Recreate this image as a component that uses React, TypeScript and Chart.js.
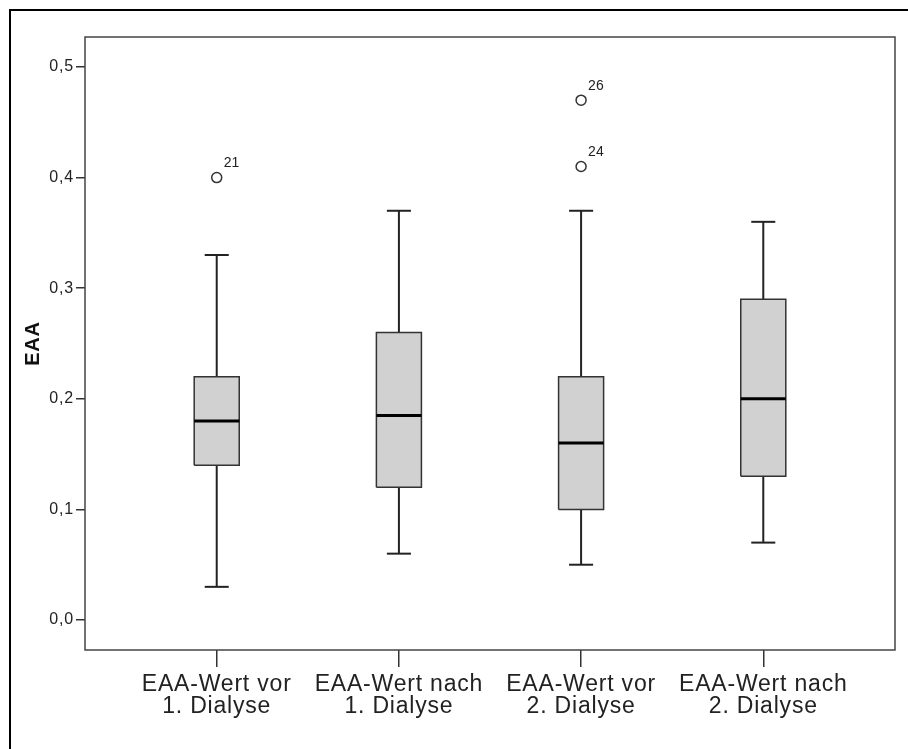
import React, { useEffect, useRef } from "react";
import { Chart, registerables } from "chart.js";

Chart.register(...registerables);

const categories: string[][] = [
  ["EAA-Wert vor", "1. Dialyse"],
  ["EAA-Wert nach", "1. Dialyse"],
  ["EAA-Wert vor", "2. Dialyse"],
  ["EAA-Wert nach", "2. Dialyse"],
];
const minVals = [0.03, 0.06, 0.05, 0.07];
const q1Vals = [0.14, 0.12, 0.1, 0.13];
const medianVals = [0.18, 0.185, 0.16, 0.2];
const q3Vals = [0.22, 0.26, 0.22, 0.29];
const maxVals = [0.33, 0.37, 0.37, 0.36];
const outlierCats = [0, 2, 2];
const outlierVals = [0.4, 0.47, 0.41];
const outlierLabels = ["21", "26", "24"];
const yTicks = [0, 0.1, 0.2, 0.3, 0.4, 0.5];

const FONT = "'Liberation Sans', Arial, sans-serif";
const BOX_HALF = 0.1236;
const CAP_HALF = 0.066;

export default function App() {
  const ref = useRef<HTMLCanvasElement | null>(null);

  useEffect(() => {
    if (!ref.current) return;
    const datasets: any[] = [];

    // medians (on top)
    categories.forEach((_, i) => {
      datasets.push({
        data: [
          { x: i - BOX_HALF, y: medianVals[i] },
          { x: i + BOX_HALF, y: medianVals[i] },
        ],
        showLine: true,
        borderColor: "#000",
        borderWidth: 3,
        pointRadius: 0,
        fill: false,
      });
    });
    // boxes
    categories.forEach((_, i) => {
      datasets.push({
        data: [
          { x: i - BOX_HALF, y: q1Vals[i] },
          { x: i + BOX_HALF, y: q1Vals[i] },
          { x: i + BOX_HALF, y: q3Vals[i] },
          { x: i - BOX_HALF, y: q3Vals[i] },
          { x: i - BOX_HALF, y: q1Vals[i] },
        ],
        showLine: true,
        borderColor: "#333",
        borderWidth: 1.5,
        backgroundColor: "#d1d1d1",
        pointRadius: 0,
        fill: "shape",
      });
    });
    // whiskers and caps
    categories.forEach((_, i) => {
      const segs = [
        [{ x: i, y: q3Vals[i] }, { x: i, y: maxVals[i] }],
        [{ x: i, y: minVals[i] }, { x: i, y: q1Vals[i] }],
        [{ x: i - CAP_HALF, y: maxVals[i] }, { x: i + CAP_HALF, y: maxVals[i] }],
        [{ x: i - CAP_HALF, y: minVals[i] }, { x: i + CAP_HALF, y: minVals[i] }],
      ];
      segs.forEach((s) => {
        datasets.push({
          data: s,
          showLine: true,
          borderColor: "#222",
          borderWidth: 2,
          pointRadius: 0,
          fill: false,
        });
      });
    });
    const outlierIndex = datasets.length;
    datasets.push({
      data: outlierVals.map((v, k) => ({ x: outlierCats[k], y: v })),
      showLine: false,
      pointStyle: "circle",
      pointRadius: 5,
      pointBorderWidth: 1.5,
      pointBorderColor: "#333",
      pointBackgroundColor: "#fff",
    });

    const decor = {
      id: "decor",
      beforeDraw(chart: any) {
        const ctx = chart.ctx;
        ctx.save();
        ctx.fillStyle = "#fff";
        ctx.fillRect(0, 0, chart.width, chart.height);
        ctx.fillStyle = "#000";
        ctx.fillRect(9, 9, chart.width, 2);
        ctx.fillRect(9, 9, 2, chart.height);
        ctx.restore();
        (ctx as any).letterSpacing = "0.8px";
      },
      beforeDatasetsDraw(chart: any) {
        const { ctx, chartArea } = chart;
        ctx.save();
        ctx.strokeStyle = "#444";
        ctx.lineWidth = 1.5;
        ctx.strokeRect(
          chartArea.left,
          chartArea.top,
          chartArea.right - chartArea.left,
          chartArea.bottom - chartArea.top
        );
        ctx.restore();
      },
      afterDatasetsDraw(chart: any) {
        const ctx = chart.ctx;
        const meta = chart.getDatasetMeta(outlierIndex);
        ctx.save();
        (ctx as any).letterSpacing = "0px";
        ctx.fillStyle = "#222";
        ctx.font = `14px ${FONT}`;
        ctx.textAlign = "left";
        ctx.textBaseline = "middle";
        meta.data.forEach((pt: any, k: number) => {
          ctx.fillText(outlierLabels[k], pt.x + 7, pt.y - 14);
        });
        ctx.restore();
      },
      afterDraw(chart: any) {
        (chart.ctx as any).letterSpacing = "0px";
      },
    };

    const chart = new Chart(ref.current, {
      type: "scatter",
      data: { datasets },
      options: {
        responsive: false,
        animation: false,
        layout: { padding: { left: 0, top: 37, right: 13, bottom: 0 } },
        plugins: {
          legend: { display: false },
          tooltip: { enabled: false },
        },
        scales: {
          x: {
            type: "linear",
            min: -0.723,
            max: 3.723,
            afterBuildTicks: (s: any) => {
              s.ticks = categories.map((_, i) => ({ value: i }));
            },
            afterFit: (s: any) => {
              s.height = 99;
            },
            border: { display: false },
            grid: {
              drawOnChartArea: false,
              drawTicks: true,
              tickLength: 17,
              color: "#333",
              lineWidth: 1.5,
            },
            ticks: {
              autoSkip: false,
              maxRotation: 0,
              padding: 7,
              color: "#222",
              font: { family: FONT, size: 23, lineHeight: 0.96 },
              callback: (v: any) => categories[Math.round(Number(v))] ?? "",
            },
          },
          y: {
            type: "linear",
            min: -0.0271,
            max: 0.5271,
            afterBuildTicks: (s: any) => {
              s.ticks = yTicks.map((v) => ({ value: v }));
            },
            afterFit: (s: any) => {
              s.width = 85;
            },
            border: { display: false },
            grid: {
              drawOnChartArea: false,
              drawTicks: true,
              tickLength: 9,
              color: "#333",
              lineWidth: 1.5,
            },
            ticks: {
              padding: 2,
              color: "#222",
              font: { family: FONT, size: 16 },
              callback: (v: any) => Number(v).toFixed(1).replace(".", ","),
            },
            title: {
              display: true,
              text: "EAA",
              color: "#111",
              font: { family: FONT, size: 20, weight: "bold", lineHeight: 1.2 },
              padding: { top: 21, bottom: 0 },
            },
          },
        },
      } as any,
      plugins: [decor],
    });
    return () => chart.destroy();
  }, []);

  return (
    <div style={{ position: "absolute", left: 0, top: 0, width: 908, height: 749 }}>
      <canvas ref={ref} width={908} height={749} style={{ display: "block" }} />
    </div>
  );
}
